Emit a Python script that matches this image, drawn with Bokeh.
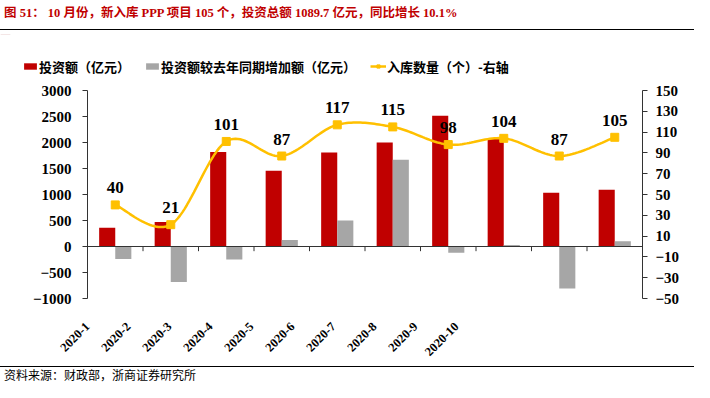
import numpy as np
from bokeh.plotting import figure
from bokeh.models import Range1d, LinearAxis, FixedTicker, Span, Legend, LegendItem, Div
from bokeh.layouts import column
from bokeh.core.properties import value
from bokeh.embed import file_html
from bokeh.resources import INLINE

# ---------------- data ----------------
months = ["2020-1", "2020-2", "2020-3", "2020-4", "2020-5",
          "2020-6", "2020-7", "2020-8", "2020-9", "2020-10"]
investment = [360, 470, 1815, 1456, 1808, 2000, 2513, 2065, 1033, 1089.7]
yoy_increase = [-242, -685, -248, 123, 500, 1667, -121, 30, -808, 99]
project_count = [40, 21, 101, 87, 117, 115, 98, 104, 87, 105]
left_ticks = [-1000, -500, 0, 500, 1000, 1500, 2000, 2500, 3000]
right_ticks = [-50, -30, -10, 10, 30, 50, 70, 90, 110, 130, 150]

title_text = "图 51： 10 月份，新入库 PPP 项目 105 个，投资总额 1089.7 亿元，同比增长 10.1%"
source_text = "资料来源：财政部，浙商证券研究所"
legend_labels = ["投资额（亿元）", "投资额较去年同期增加额（亿元）", "入库数量（个）-右轴"]

# ---------------- styles ----------------
RED = "#C00000"
GRAY = "#A6A6A6"
YEL = "#FFC000"
AX = "#333333"
SERIF = "'Liberation Serif', 'Noto Sans CJK SC'"
SANS = "'Noto Sans CJK SC'"
W = 694

n = len(months)
xc = np.arange(n) + 0.5
bw = 0.29


def smooth_path(xs, ys, steps=24):
    pts = np.column_stack([xs, ys]).astype(float)
    m = len(pts)
    out = []
    for i in range(m - 1):
        p0 = pts[max(i - 1, 0)]
        p1 = pts[i]
        p2 = pts[i + 1]
        p3 = pts[min(i + 2, m - 1)]
        c1 = p1 + (p2 - p0) / 6.0
        c2 = p2 - (p3 - p1) / 6.0
        t = np.linspace(0, 1, steps, endpoint=(i == m - 2))[:, None]
        seg = (1 - t) ** 3 * p1 + 3 * (1 - t) ** 2 * t * c1 + 3 * (1 - t) * t ** 2 * c2 + t ** 3 * p2
        out.append(seg)
    path = np.vstack(out)
    return path[:, 0], path[:, 1]


def add_series(fig, yname):
    """Draw the three series on fig; returns renderers."""
    r1 = fig.vbar(x=xc - bw / 2, top=investment, bottom=0, width=bw, fill_color=RED, line_color=None)
    r2 = fig.vbar(x=xc + bw / 2, top=yoy_increase, bottom=0, width=bw, fill_color=GRAY, line_color=None)
    sx, sy = smooth_path(xc, project_count)
    r3 = fig.line(sx, sy, y_range_name=yname, line_color=YEL, line_width=2.5)
    r4 = fig.scatter(xc, project_count, y_range_name=yname, marker="square", size=8,
                     fill_color=YEL, line_color=YEL)
    return r1, r2, r3, r4


# ---------------- header (title + rule) ----------------
header = Div(width=W, height=34, margin=0, text=(
    f'<div style="width:{W}px;height:30px;box-sizing:border-box;border-bottom:1.5px solid #000;'
    f'padding:5px 0 0 4px;font-family:{SERIF};font-weight:bold;font-size:12.5px;'
    f'line-height:16px;color:{RED};white-space:nowrap;">{title_text}</div>'))

# ---------------- legend strip ----------------
# same series drawn far outside this strip's visible ranges; only the legend shows
LG_H = 48
lf = figure(width=W, height=LG_H, x_range=Range1d(0, W), y_range=Range1d(-10000, -10000 + LG_H),
            x_axis_location=None, y_axis_location=None, toolbar_location=None,
            output_backend="svg", min_border=0, outline_line_color=None, frame_align=False)
lf.grid.visible = False
lf.extra_y_ranges = {"cnt": Range1d(-10000, -10000 + LG_H)}
l_red, l_gray, l_line, l_pts = add_series(lf, "cnt")
legend = Legend(items=[LegendItem(label=legend_labels[0], renderers=[l_red]),
                       LegendItem(label=legend_labels[1], renderers=[l_gray]),
                       LegendItem(label=legend_labels[2], renderers=[l_line, l_pts])],
                orientation="horizontal", location="top_left",
                border_line_color=None, background_fill_alpha=0, padding=0, margin=22,
                spacing=14, glyph_width=16, glyph_height=8, label_standoff=1, label_height=20,
                label_text_font=SANS, label_text_font_size="13px",
                label_text_font_style="bold", label_text_color="black",
                label_text_baseline="middle")
lf.add_layout(legend)

# ---------------- main chart ----------------
p = figure(width=W, height=280, x_range=Range1d(0, n), y_range=Range1d(-1000, 3000),
           x_axis_location=None, toolbar_location=None, output_backend="svg",
           min_border_left=87, min_border_right=52, min_border_top=8, min_border_bottom=64,
           outline_line_color=None, frame_align=False)
p.grid.visible = False
p.extra_y_ranges = {"cnt": Range1d(-50, 150)}
p.extra_x_ranges = {"lab": Range1d(0, 555 / 41.0)}

p.add_layout(Span(location=0, dimension="width", line_color=AX, line_width=1))
bounds = np.arange(1, n)
p.segment(x0=bounds, y0=0, x1=bounds, y1=-90, line_color=AX, line_width=1)

add_series(p, "cnt")
p.text(xc, project_count, text=[str(v) for v in project_count], y_range_name="cnt",
       text_align="center", text_baseline="middle", y_offset=-17,
       text_font=value(SERIF), text_font_size="17px", text_font_style="bold", text_color="black")


def style_axis(ax, standoff):
    ax.minor_tick_line_color = None
    ax.major_tick_in = 0
    ax.major_tick_out = 5
    ax.axis_line_color = AX
    ax.major_tick_line_color = AX
    ax.major_label_standoff = standoff
    ax.major_label_text_font = SERIF
    ax.major_label_text_font_size = "15px"
    ax.major_label_text_font_style = "bold"
    ax.major_label_text_color = "black"


ya = p.yaxis[0]
ya.ticker = FixedTicker(ticks=left_ticks)
style_axis(ya, 11)

ra = LinearAxis(y_range_name="cnt", ticker=FixedTicker(ticks=right_ticks))
style_axis(ra, 8)
p.add_layout(ra, "right")

xa = LinearAxis(x_range_name="lab", ticker=FixedTicker(ticks=list(range(n))),
                major_label_overrides={i: m for i, m in enumerate(months)})
xa.axis_line_color = None
xa.major_tick_line_color = None
xa.minor_tick_line_color = None
xa.major_label_orientation = np.pi / 4
xa.major_label_standoff = 20
xa.major_label_text_font = SERIF
xa.major_label_text_font_size = "12.5px"
xa.major_label_text_font_style = "bold"
xa.major_label_text_color = "black"
p.add_layout(xa, "below")

# ---------------- footer ----------------
footer = Div(width=W, height=20, margin=0, text=(
    f'<div style="width:{W}px;margin-top:4px;border-top:1.5px solid #000;'
    f'padding:1px 0 0 4px;font-family:{SANS};font-size:12px;line-height:13px;'
    f'color:#000;white-space:nowrap;">{source_text}</div>'))

layout = column(header, lf, p, footer, spacing=0)
open("out.html", "w").write(file_html(layout, INLINE))
